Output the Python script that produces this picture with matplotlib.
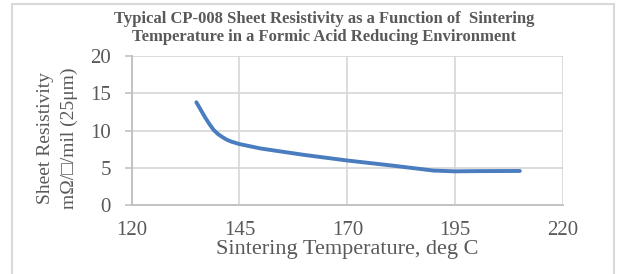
import matplotlib
matplotlib.use('Agg')
import matplotlib.pyplot as plt
from matplotlib.patches import Rectangle

# values
temperature = [135, 136, 137, 138, 139, 140, 141, 142, 143, 145, 150, 160, 170, 180, 190, 195, 200, 210]
resistivity = [13.8, 12.8, 11.8, 10.9, 10.1, 9.55, 9.15, 8.8, 8.55, 8.2, 7.6, 6.75, 6.0, 5.35, 4.65, 4.55, 4.58, 4.6]

x_ticks = [120, 145, 170, 195, 220]
y_ticks = [0, 5, 10, 15, 20]

title = ('Typical CP-008 Sheet Resistivity as a Function of  Sintering\n'
         'Temperature in a Formic Acid Reducing Environment')
x_label = 'Sintering Temperature, deg C'
y_label = 'Sheet Resistivity\nm\u03a9/\u25a1/mil (25\u03bcm)'

text_gray = '#595959'
grid_gray = '#D9D9D9'
line_blue = '#4A7DBF'

plt.rcParams['font.family'] = ['Liberation Serif', 'DejaVu Serif', 'DejaVu Sans']

fig = plt.figure(figsize=(6.17, 2.74), dpi=100)
ax = fig.add_axes([0.2134, 0.2507, 0.699, 0.545])

ax.plot(temperature, resistivity, color=line_blue, lw=2.8,
        solid_capstyle='round', solid_joinstyle='round', zorder=3)

ax.set_xlim(120, 220)
ax.set_ylim(0, 20)
ax.set_xticks(x_ticks)
ax.set_yticks(y_ticks)
ax.grid(True, color=grid_gray, lw=1.3)
ax.set_axisbelow(True)

for s in ['top', 'right']:
    ax.spines[s].set_visible(False)
for s in ['left', 'bottom']:
    ax.spines[s].set_color('#BFBFBF')
    ax.spines[s].set_linewidth(1.3)

ax.tick_params(axis='y', length=5, width=1.1, color='#BFBFBF', pad=10,
               labelsize=15, labelcolor=text_gray)
ax.tick_params(axis='x', length=0, pad=11, labelsize=15, labelcolor=text_gray)

ax.set_xlabel(x_label, fontsize=16, color=text_gray, labelpad=0)
ax.set_ylabel(y_label, fontsize=14, color=text_gray, linespacing=1.45)
ax.yaxis.set_label_coords(-0.125, 0.45)

fig.text(0.525, 0.898, title, ha='center', va='center', fontsize=12,
         fontweight='bold', color=text_gray, linespacing=1.1)

# chart frame
fig.patches.append(Rectangle((12 / 617, -0.1), 602 / 617, 1.1 - 4 / 274,
                             transform=fig.transFigure, fill=False,
                             edgecolor=grid_gray, lw=1.5))

fig.savefig('out.png', dpi=100)
